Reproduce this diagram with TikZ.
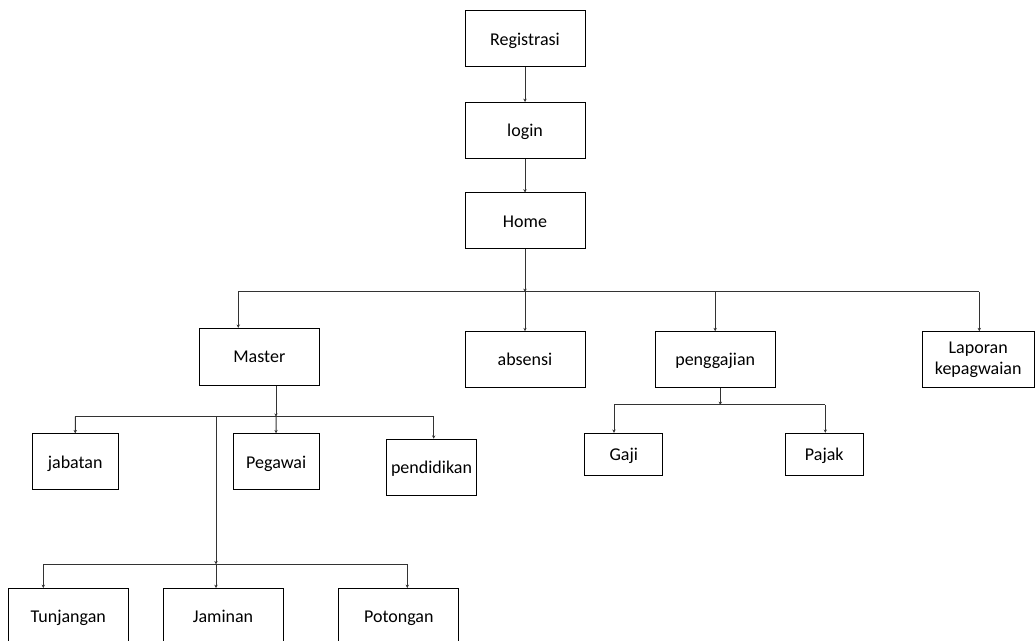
\documentclass[tikz,border=0pt]{standalone}
\usepackage{fontspec}
\setmainfont{Carlito}
\usepackage{tikz}
\usetikzlibrary{
	positioning,
	arrows.meta
}

\tikzset{
	menu/.style={draw,line width=0.75pt,inner sep=0pt,align=center,
		minimum width=90pt,minimum height=42pt,
		text height=10.5pt,text depth=1.2pt,
		font={\fontsize{13.5}{15.5}\selectfont}},
	twoline/.style={menu,text height={},text depth={}},
	link/.style={draw=black!80,line width=0.75pt},
	arr/.style={link,-{Stealth[length=2.5pt,width=2.5pt]}}
}

\begin{document}
\begin{tikzpicture}[x=0.75pt,y=-0.75pt]
	\useasboundingbox (0,0) rectangle (1035,641);
	\clip (0,0) rectangle (1035,641);
	% top chain
	\node [menu] (reg)   at (525,39)    {Registrasi};
	\node [menu] (login) at (525,130.5) {login};
	\node [menu] (home)  at (525,221)   {Home};
	% main menu
	\node [menu,minimum height=42.5pt] (master) at (259.3,356.7) {Master};
	\node [menu] (absensi)    at (525,359.7)   {absensi};
	\node [menu] (penggajian) at (715.2,359.7) {penggajian};
	\node [twoline,minimum width=84pt] (laporan) at (978.2,359.7) {Laporan\\kepagwaian};
	% master data
	\node [menu,minimum width=64.7pt] (jabatan)    at (75.2,461.8)  {jabatan};
	\node [menu,minimum width=64.7pt] (pegawai)    at (276.2,461.8) {Pegawai};
	\node [menu,minimum width=67.2pt] (pendidikan) at (431.5,467.2) {pendidikan};
	\node [menu] (tunjangan) at (68.3,616.5)  {Tunjangan};
	\node [menu] (jaminan)   at (223,616.5)   {Jaminan};
	\node [menu] (potongan)  at (398.8,616.5) {Potongan};
	% payroll
	\node [menu,minimum width=58.3pt,minimum height=31.8pt] (gaji)  at (623.8,454.5) {Gaji};
	\node [menu,minimum width=58.5pt,minimum height=31.8pt] (pajak) at (824.3,454.5) {Pajak};

	% bus points
	\coordinate (hbus) at (525,292);
	\coordinate (hl)   at (238.3,292);
	\coordinate (hr)   at (979.3,292);
	\coordinate (mbus) at (276,416.7);
	\coordinate (ml)   at (75.3,416.7);
	\coordinate (mr)   at (433.7,416.7);
	\coordinate (msub) at (216,416.7);
	\coordinate (sbus) at (216,564.3);
	\coordinate (sl)   at (43.3,564.3);
	\coordinate (sr)   at (407.3,564.3);
	\coordinate (pbus) at (720.3,405);
	\coordinate (pl)   at (614,405);
	\coordinate (pr)   at (825.3,405);

	\draw [arr] (reg) -- (login);
	\draw [arr] (login) -- (home);
	\draw [arr] (home) -- (hbus);
	\draw [link] (hl) -- (hr);
	\draw [arr] (hl) -- (hl |- master.north);
	\draw [arr] (hbus) -- (absensi);
	\draw [arr] (hbus -| penggajian) -- (penggajian);
	\draw [arr] (hr) -- (hr |- laporan.north);

	\draw [arr] (master.south -| mbus) -- (mbus);
	\draw [link] (ml) -- (mr);
	\draw [arr] (ml) -- (jabatan);
	\draw [arr] (mbus) -- (pegawai);
	\draw [arr] (mr) -- (mr |- pendidikan.north);
	\draw [arr] (msub) -- (sbus);
	\draw [link] (sl) -- (sr);
	\draw [arr] (sl) -- (sl |- tunjangan.north);
	\draw [arr] (sbus) -- (sbus |- jaminan.north);
	\draw [arr] (sr) -- (sr |- potongan.north);

	\draw [arr] (penggajian.south -| pbus) -- (pbus);
	\draw [link] (pl) -- (pr);
	\draw [arr] (pl) -- (pl |- gaji.north);
	\draw [arr] (pr) -- (pr |- pajak.north);
\end{tikzpicture}
\end{document}
